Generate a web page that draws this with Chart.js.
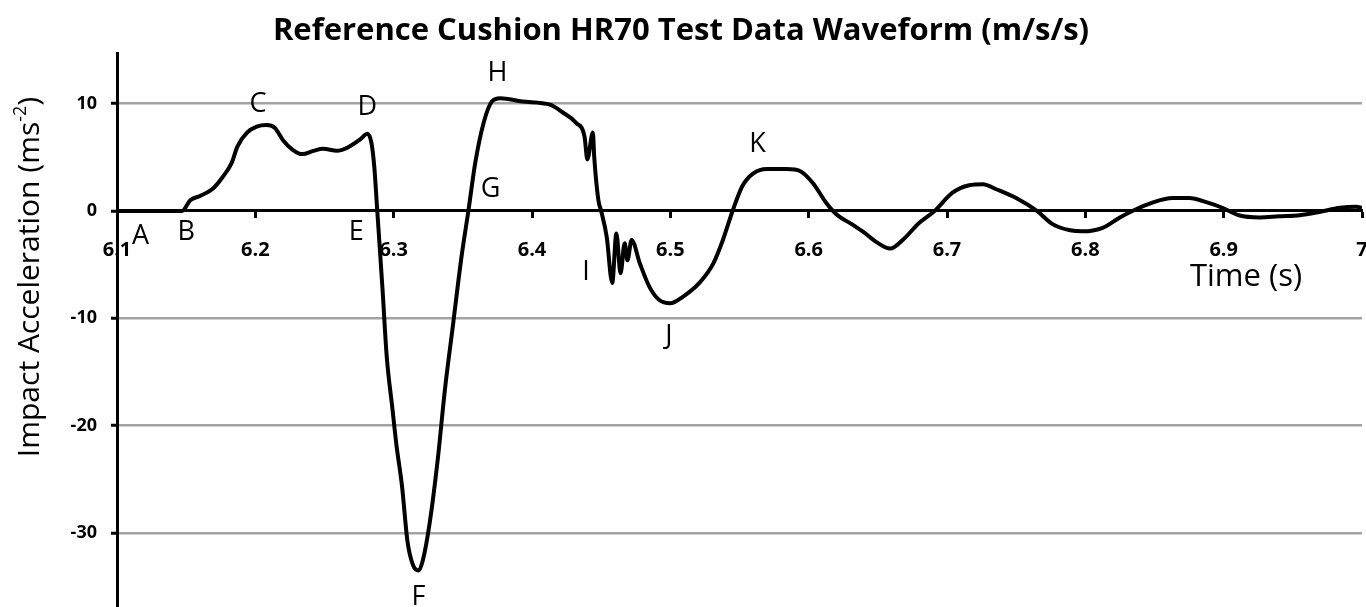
<!DOCTYPE html>
<html>
<head>
<meta charset="utf-8">
<title>Reference Cushion HR70 Test Data Waveform</title>
<script src="https://cdn.jsdelivr.net/npm/chart.js@4.4.1/dist/chart.umd.min.js"></script>
<style>
  html, body { margin: 0; padding: 0; background: #fff; }
  #wrap { width: 1366px; height: 607px; }
</style>
</head>
<body>
<div id="wrap"><canvas id="waveChart" width="1366" height="607"></canvas></div>
<script>
// ---------------------------------------------
// Waveform data
// ---------------------------------------------
const chartTitle = "Reference Cushion HR70 Test Data Waveform (m/s/s)";
const xTitle = "Time (s)";

const timeS = [
  6.100, 6.130, 6.147, 6.153, 6.160, 6.169, 6.176, 6.183, 6.187, 6.194,
  6.201, 6.208, 6.214, 6.220, 6.227, 6.234, 6.242, 6.249, 6.259, 6.268,
  6.276, 6.281, 6.284, 6.286, 6.288, 6.292, 6.295, 6.299, 6.302, 6.306,
  6.310, 6.314, 6.318, 6.321, 6.326, 6.332, 6.337, 6.343, 6.349, 6.354,
  6.359, 6.365, 6.371, 6.377, 6.393, 6.413, 6.422, 6.432, 6.438, 6.440,
  6.444, 6.445, 6.448, 6.450, 6.454, 6.458, 6.461, 6.464, 6.467, 6.469,
  6.472, 6.478, 6.485, 6.492, 6.500, 6.509, 6.521, 6.531, 6.538, 6.545,
  6.552, 6.560, 6.570, 6.584, 6.594, 6.603, 6.613, 6.620, 6.632, 6.640,
  6.649, 6.659, 6.668, 6.680, 6.691, 6.704, 6.716, 6.726, 6.736, 6.750,
  6.765, 6.776, 6.789, 6.798, 6.812, 6.825, 6.834, 6.849, 6.863, 6.875,
  6.888, 6.899, 6.911, 6.926, 6.940, 6.955, 6.969, 6.984, 6.996, 7.000
];

const accel = [
  0, 0, 0, 1.0, 1.4, 2.05, 3.1, 4.5, 6.0, 7.3,
  7.85, 8.0, 7.75, 6.6, 5.7, 5.3, 5.6, 5.8, 5.6, 6.0,
  6.7, 7.2, 6.3, 4.1, 0.3, -7.4, -13.6, -18.3, -21.8, -25.6,
  -30.8, -33.0, -33.5, -32.6, -29.1, -23.0, -16.7, -10.5, -4.3, 0,
  4.5, 8.2, 10.2, 10.5, 10.2, 9.9, 9.2, 8.2, 6.9, 4.8,
  7.3, 5.0, 1.0, 0, -2.4, -6.7, -2.1, -5.8, -3.0, -4.6,
  -2.7, -4.9, -7.1, -8.3, -8.6, -8.0, -6.7, -4.9, -2.7, 0,
  2.3, 3.5, 3.9, 3.9, 3.7, 2.6, 0.7, -0.3, -1.3, -2.0,
  -2.9, -3.5, -2.7, -1.1, 0, 1.7, 2.4, 2.5, 2.0, 1.2,
  0, -1.2, -1.8, -1.9, -1.6, -0.6, 0, 0.8, 1.2, 1.2,
  0.8, 0.3, -0.4, -0.6, -0.5, -0.4, -0.1, 0.3, 0.4, 0.3
];

const xTickValues = [6.1, 6.2, 6.3, 6.4, 6.5, 6.6, 6.7, 6.8, 6.9, 7.0];
const yTickValues = [-30, -20, -10, 0, 10];

// point letters A..K, placed in data units
const markLetters = ["A", "B", "C", "D", "E", "F", "G", "H", "I", "J", "K"];
const markTimes   = [6.117, 6.150, 6.202, 6.281, 6.273, 6.318, 6.370, 6.375, 6.439, 6.499, 6.563];
const markAccels  = [-2.4, -2.0, 9.9, 9.7, -2.0, -36.0, 2.0, 12.8, -5.7, -11.7, 6.2];

// scales keep no extra edge padding, so the plot reaches the right and bottom edges
const noScalePadding = s => {
  s.paddingLeft = 0;
  s.paddingRight = 0;
  s.paddingTop = 0;
  s.paddingBottom = 0;
};

// letters + axis titles drawn on top of the plot
const labelPlugin = {
  id: "waveLabels",
  afterDraw(chart) {
    const ctx = chart.ctx;
    const x = chart.scales.x;
    const y = chart.scales.y;

    ctx.save();
    ctx.fillStyle = "#000";
    ctx.textAlign = "center";
    ctx.textBaseline = "middle";

    ctx.font = "27px 'Open Sans'";
    markLetters.forEach((m, i) => {
      ctx.fillText(m, x.getPixelForValue(markTimes[i]), y.getPixelForValue(markAccels[i]));
    });

    ctx.font = "31px 'Open Sans'";
    ctx.fillText(xTitle, 1246, 277);

    // y title with superscript
    const main = "Impact Acceleration (ms";
    const sup = "-2";
    const tail = ")";
    ctx.translate(30, 277);
    ctx.rotate(-Math.PI / 2);
    ctx.font = "30px 'Open Sans'";
    const wMain = ctx.measureText(main).width;
    const wTail = ctx.measureText(tail).width;
    ctx.font = "18px 'Open Sans'";
    const wSup = ctx.measureText(sup).width;
    const total = wMain + wSup + wTail;
    let cx = -total / 2;
    ctx.textAlign = "left";
    ctx.font = "30px 'Open Sans'";
    ctx.fillText(main, cx, 0);
    cx += wMain;
    ctx.font = "18px 'Open Sans'";
    ctx.fillText(sup, cx, -9);
    cx += wSup;
    ctx.font = "30px 'Open Sans'";
    ctx.fillText(tail, cx, 0);
    ctx.restore();
  }
};

const ctx = document.getElementById("waveChart").getContext("2d");

new Chart(ctx, {
  type: "line",
  data: {
    datasets: [{
      data: timeS.map((t, i) => ({ x: t, y: accel[i] })),
      borderColor: "#000",
      borderWidth: 4,
      pointRadius: 0,
      fill: false,
      cubicInterpolationMode: "monotone"
    }]
  },
  options: {
    responsive: false,
    animation: false,
    layout: { padding: { left: 0, right: 4, top: 0, bottom: 0 } },
    plugins: {
      legend: { display: false },
      tooltip: { enabled: false },
      title: {
        display: true,
        text: chartTitle,
        color: "#000",
        font: { family: "Open Sans", size: 31, weight: "bold" },
        padding: { top: 13, bottom: 3 }
      }
    },
    scales: {
      x: {
        type: "linear",
        position: { y: 0 },
        min: 6.1,
        max: 7.0,
        afterBuildTicks: s => { s.ticks = xTickValues.map(v => ({ value: v })); },
        afterFit: noScalePadding,
        ticks: {
          callback: v => String(Number(v.toFixed(1))),
          color: "#000",
          font: { family: "Open Sans", size: 20, weight: "bold" },
          padding: 21,
          maxRotation: 0,
          autoSkip: false
        },
        grid: {
          drawOnChartArea: false,
          drawTicks: true,
          tickLength: 6,
          tickWidth: 3,
          tickColor: "#000"
        },
        border: { color: "#000", width: 3 }
      },
      y: {
        min: -36.9,
        max: 14.7,
        afterBuildTicks: s => { s.ticks = yTickValues.map(v => ({ value: v })); },
        afterFit: s => {
          noScalePadding(s);
          s.width = 117;
        },
        ticks: {
          color: "#000",
          font: { family: "Open Sans", size: 18, weight: "bold" },
          padding: 14
        },
        grid: {
          color: c => (c.tick && c.tick.value === 0) ? "rgba(0,0,0,0)" : "#a3a3a3",
          lineWidth: 2.5,
          tickColor: "#000",
          tickLength: 6,
          tickWidth: 3
        },
        border: { color: "#000", width: 3 }
      }
    }
  },
  plugins: [labelPlugin]
});
</script>
</body>
</html>
